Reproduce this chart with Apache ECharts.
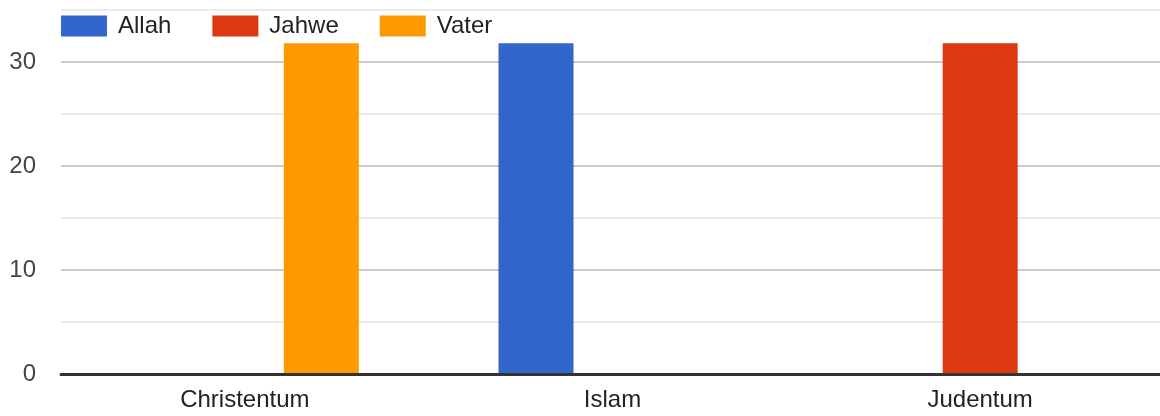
<!DOCTYPE html>
<html>
<head>
<meta charset="utf-8">
<script src="https://cdn.jsdelivr.net/npm/echarts@6/dist/echarts.min.js"></script>
<style>html,body{margin:0;padding:0;background:#fff;overflow:hidden;}#c{width:1164px;height:416px;}</style>
</head>
<body>
<div id="c"></div>
<script>
const categories = ['Christentum', 'Islam', 'Judentum'];
const allah = [null, 31.8, null];
const jahwe = [null, null, 31.8];
const vater = [31.8, null, null];
const seriesNames = ['Allah', 'Jahwe', 'Vater'];
const colors = ['#3366cc', '#dc3912', '#ff9900'];

const chart = echarts.init(document.getElementById('c'), null, {renderer: 'canvas'});
const font = 'Arial, "Liberation Sans", sans-serif';
const values = [allah, jahwe, vater];
chart.setOption({
  animation: false,
  color: colors,
  grid: {left: 61, right: 0, top: 10, bottom: 42, containLabel: false},
  legend: {
    left: 61, top: 14, padding: 0,
    itemWidth: 46, itemHeight: 21, itemGap: 41,
    icon: 'rect',
    textStyle: {fontFamily: font, fontSize: 24, color: '#222', padding: [0, 0, 0, 6]},
    data: seriesNames
  },
  xAxis: {
    type: 'category',
    data: categories,
    axisTick: {show: false},
    axisLine: {show: true, lineStyle: {color: '#333', width: 3}},
    axisLabel: {fontFamily: font, fontSize: 24, color: '#222', margin: 14},
    z: 10
  },
  yAxis: {
    type: 'value',
    min: 0, max: 35, interval: 5,
    axisLine: {show: false},
    axisTick: {show: false},
    axisLabel: {
      fontFamily: font, fontSize: 24, color: '#444', margin: 25,
      formatter: v => (v % 10 === 0 ? String(v) : '')
    },
    splitLine: {lineStyle: {color: ['#cccccc', '#ebebeb'], width: 2}}
  },
  series: seriesNames.map((n, i) => ({
    name: n,
    type: 'bar',
    data: values[i],
    barWidth: 75,
    barGap: '2%',
    itemStyle: {color: colors[i]}
  }))
});
</script>
</body>
</html>
